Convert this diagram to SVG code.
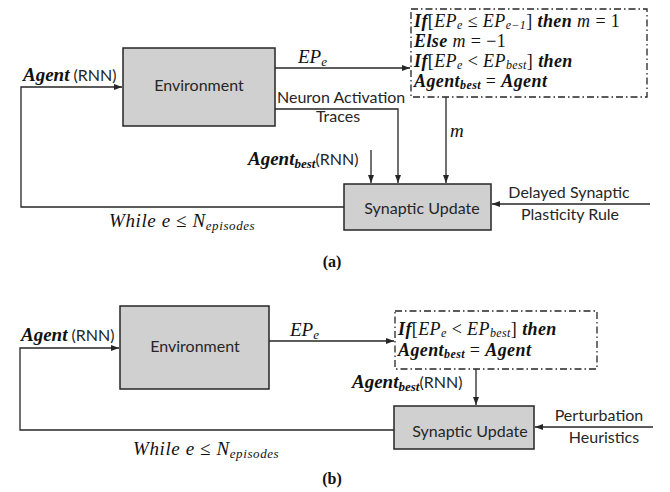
<svg xmlns="http://www.w3.org/2000/svg" width="670" height="492" viewBox="0 0 670 492">
<defs>
<style>
.box{fill:#d0d0d0;stroke:#262626;stroke-width:1.5}
.dash{fill:none;stroke:#262626;stroke-width:1.3;stroke-dasharray:7 3 1.5 3}
.ln{fill:none;stroke:#262626;stroke-width:1.3}
.sans{font-family:Lato,"Liberation Sans",sans-serif;font-size:16px;fill:#262626}
.math{font-family:"Liberation Serif",serif;font-size:19px;fill:#111}
.cond{font-size:18px;letter-spacing:0.4px}
.while{letter-spacing:0.6px}
.i{font-style:italic}
.bi{font-style:italic;font-weight:bold}
.sub{font-size:13px}
.cond .sub{font-size:12px}
.cap{font-family:"Liberation Serif",serif;font-weight:bold;font-size:16px;fill:#111}
</style>
<marker id="ah" markerWidth="8" markerHeight="6" refX="8" refY="3" orient="auto" markerUnits="userSpaceOnUse">
<path d="M0,0 L8,3 L0,6 z" fill="#262626"/>
</marker>
</defs>

<g id="connectors">
<path class="ln" d="M344,207 H21 V87 H122" marker-end="url(#ah)"/>
<path class="ln" d="M275,68 H410" marker-end="url(#ah)"/>
<path class="ln" d="M275,109 H398 V183" marker-end="url(#ah)"/>
<path class="ln" d="M446,97 V183" marker-end="url(#ah)"/>
<path class="ln" d="M371,150 V183" marker-end="url(#ah)"/>
<path class="ln" d="M650,204 H492" marker-end="url(#ah)"/>
<path class="ln" d="M394,430 H20 V348 H119" marker-end="url(#ah)"/>
<path class="ln" d="M269,341 H394" marker-end="url(#ah)"/>
<path class="ln" d="M476,369 V405" marker-end="url(#ah)"/>
<path class="ln" d="M653,427 H535" marker-end="url(#ah)"/>
</g>

<g id="a-environment">
<rect class="box" x="123" y="48" width="152" height="78"/>
<text class="sans" x="199" y="91" text-anchor="middle">Environment</text>
</g>
<g id="a-condition">
<rect class="dash" x="411" y="9" width="236" height="88"/>
<text class="math cond" x="414" y="27"><tspan class="bi">If</tspan>[<tspan class="i">EP</tspan><tspan class="i sub" dy="2">e</tspan><tspan dy="-2"> ≤ </tspan><tspan class="i">EP</tspan><tspan class="i sub" dy="2">e−1</tspan><tspan dy="-2">] </tspan><tspan class="bi">then</tspan> <tspan class="i">m</tspan> = 1</text>
<text class="math cond" x="414" y="47"><tspan class="bi">Else</tspan> <tspan class="i">m</tspan> = −1</text>
<text class="math cond" x="414" y="67"><tspan class="bi">If</tspan>[<tspan class="i">EP</tspan><tspan class="i sub" dy="2">e</tspan><tspan dy="-2"> &lt; </tspan><tspan class="i">EP</tspan><tspan class="i sub" dy="2">best</tspan><tspan dy="-2">] </tspan><tspan class="bi">then</tspan></text>
<text class="math cond" x="414" y="87"><tspan class="bi">Agent</tspan><tspan class="bi sub" dy="2">best</tspan><tspan dy="-2"> = </tspan><tspan class="bi">Agent</tspan></text>
</g>
<g id="a-synaptic">
<rect class="box" x="344" y="184" width="147" height="46"/>
<text class="sans" x="422" y="214" text-anchor="middle">Synaptic Update</text>
</g>
<g id="a-labels">
<text x="23" y="81"><tspan class="math bi">Agent</tspan><tspan class="sans"> (RNN)</tspan></text>
<text class="math" x="298" y="63"><tspan class="i">EP</tspan><tspan class="i sub" dy="3">e</tspan></text>
<text class="sans" x="277" y="103">Neuron Activation</text>
<text class="sans" x="338" y="122" text-anchor="middle">Traces</text>
<text class="math i" x="450" y="137">m</text>
<text x="248" y="165"><tspan class="math bi">Agent</tspan><tspan class="math bi sub" dy="3">best</tspan><tspan class="sans" dy="-3">(RNN)</tspan></text>
<text class="math i while" x="109" y="227">While e ≤ N<tspan class="sub" dy="3">episodes</tspan></text>
<text class="sans" x="569" y="198" text-anchor="middle">Delayed Synaptic</text>
<text class="sans" x="570" y="220" text-anchor="middle">Plasticity Rule</text>
<text class="cap" x="332" y="267" text-anchor="middle">(a)</text>
</g>

<g id="b-environment">
<rect class="box" x="120" y="306" width="149" height="83"/>
<text class="sans" x="195" y="352" text-anchor="middle">Environment</text>
</g>
<g id="b-condition">
<rect class="dash" x="395" y="311" width="202" height="58"/>
<text class="math cond" x="398" y="335"><tspan class="bi">If</tspan>[<tspan class="i">EP</tspan><tspan class="i sub" dy="2">e</tspan><tspan dy="-2"> &lt; </tspan><tspan class="i">EP</tspan><tspan class="i sub" dy="2">best</tspan><tspan dy="-2">] </tspan><tspan class="bi">then</tspan></text>
<text class="math cond" x="398" y="356"><tspan class="bi">Agent</tspan><tspan class="bi sub" dy="2">best</tspan><tspan dy="-2"> = </tspan><tspan class="bi">Agent</tspan></text>
</g>
<g id="b-synaptic">
<rect class="box" x="394" y="406" width="140" height="43"/>
<text class="sans" x="470" y="437" text-anchor="middle">Synaptic Update</text>
</g>
<g id="b-labels">
<text x="21" y="341"><tspan class="math bi">Agent</tspan><tspan class="sans"> (RNN)</tspan></text>
<text class="math" x="290" y="336"><tspan class="i">EP</tspan><tspan class="i sub" dy="3">e</tspan></text>
<text x="352" y="388"><tspan class="math bi">Agent</tspan><tspan class="math bi sub" dy="3">best</tspan><tspan class="sans" dy="-3">(RNN)</tspan></text>
<text class="math i while" x="133" y="455">While e ≤ N<tspan class="sub" dy="3">episodes</tspan></text>
<text class="sans" x="599" y="421" text-anchor="middle">Perturbation</text>
<text class="sans" x="604" y="443" text-anchor="middle">Heuristics</text>
<text class="cap" x="332" y="484" text-anchor="middle">(b)</text>
</g>
</svg>
